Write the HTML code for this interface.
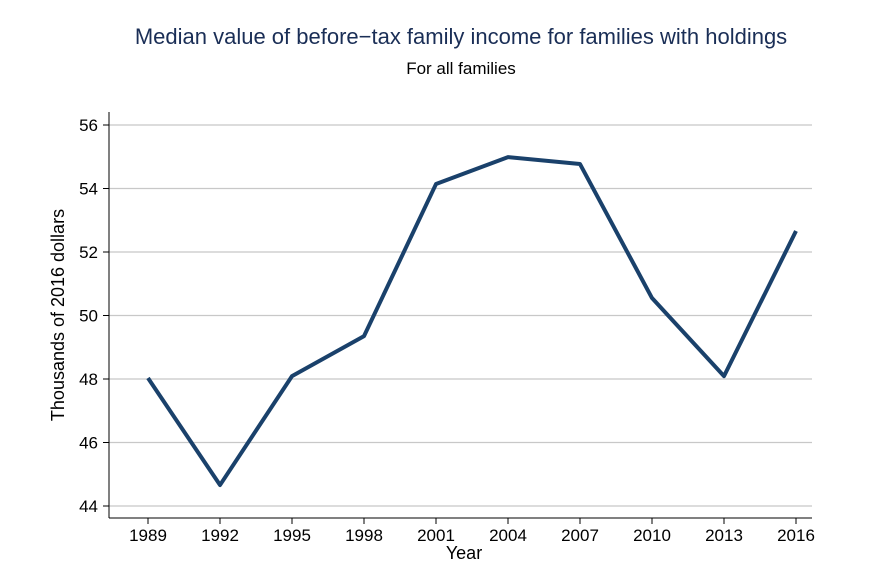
<!DOCTYPE html>
<html><head><meta charset="utf-8"><style>
body{margin:0;background:#fff;}
svg{display:block;font-family:"Liberation Sans",sans-serif;}
</style></head><body>
<svg id="chart" width="895" height="576">
<rect width="895" height="576" fill="#fff"/>
<text x="461" y="44" text-anchor="middle" font-size="22" fill="#1a2e56">Median value of before−tax family income for families with holdings</text>
<text x="461" y="74" text-anchor="middle" font-size="17" fill="#000">For all families</text>
<g id="grid"></g>
<g id="axes"></g>
<g id="series"></g>
<text x="464" y="559" text-anchor="middle" font-size="18">Year</text>
<text transform="translate(64,315) rotate(-90)" text-anchor="middle" font-size="18">Thousands of 2016 dollars</text>
</svg>
<script>
const years=[1989,1992,1995,1998,2001,2004,2007,2010,2013,2016];
const values=[48.03,44.66,48.09,49.35,54.14,54.99,54.77,50.55,48.09,52.66];
const yTicks=[44,46,48,50,52,54,56];
const NS="http://www.w3.org/2000/svg";
const xs=y=>148+(y-1989)*24;
const ys=v=>506-(v-44)*31.75;
function mk(t,a,p){const e=document.createElementNS(NS,t);for(const k in a)e.setAttribute(k,a[k]);p.appendChild(e);return e;}
const grid=document.getElementById('grid'),axes=document.getElementById('axes'),series=document.getElementById('series');
yTicks.forEach(v=>{
 const g=mk('line',{x1:109,x2:812,y1:ys(v),y2:ys(v),stroke:'#c8c8c8','stroke-width':1.3},grid);
 
 
 const t=mk('line',{x1:103,x2:109,y1:ys(v),y2:ys(v),stroke:'#000','stroke-width':1},axes);
 
 
 const l=mk('text',{x:98,y:ys(v)+6,'text-anchor':'end','font-size':17},axes);l.textContent=v;
 
 
});
const ya=mk('line',{x1:109,x2:109,y1:112,y2:518,stroke:'#000','stroke-width':1},axes);


const xa=mk('line',{x1:109,x2:812,y1:518,y2:518,stroke:'#000','stroke-width':1},axes);


years.forEach(y=>{
 const t=mk('line',{x1:xs(y),x2:xs(y),y1:518,y2:524,stroke:'#000','stroke-width':1},axes);
 
 
 const l=mk('text',{x:xs(y),y:541,'text-anchor':'middle','font-size':17},axes);l.textContent=y;
 
 
});
const pl=mk('polyline',{points:years.map((y,i)=>xs(y)+','+ys(values[i])).join(' '),fill:'none',stroke:'#1a416b','stroke-width':4,'stroke-linejoin':'round'},series);


</script>
</body></html>
